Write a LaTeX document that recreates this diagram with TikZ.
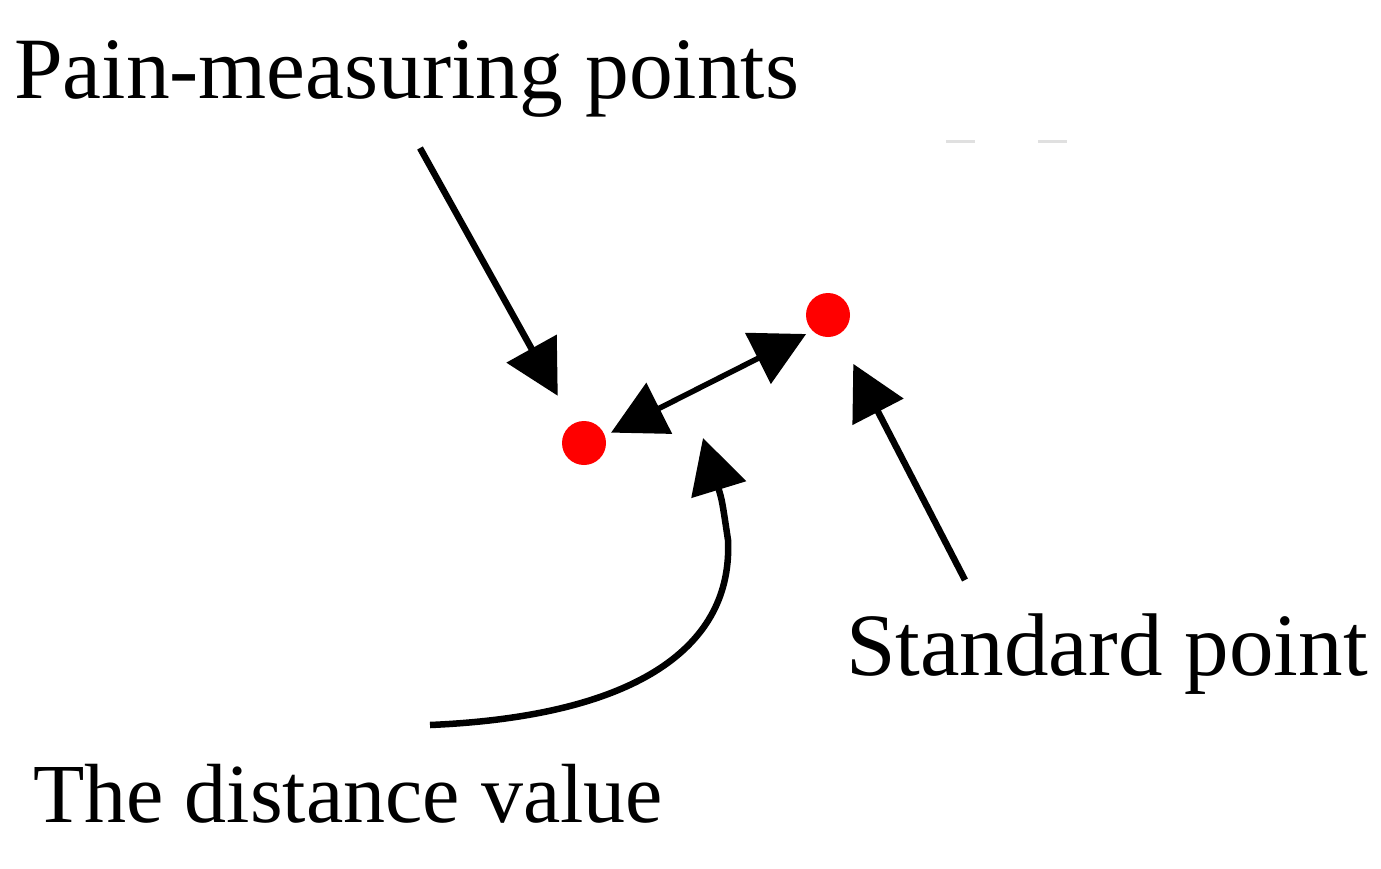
\documentclass[tikz,border=0pt]{standalone}
\usepackage{fontspec}
\setmainfont{Liberation Serif}
\usetikzlibrary{arrows.meta}
\begin{document}
\begin{tikzpicture}[x=1pt,y=-1pt,
  lbl/.style={anchor=base west,inner sep=0pt},
  dot/.style={circle,fill=red,minimum size=44pt,inner sep=0pt,outer sep=7pt},
  arr/.style={line width=6.5pt,-{Triangle[length=54pt,width=56pt]}},
  darr/.style={line width=5.5pt,{Triangle[length=54pt,width=56pt]}-{Triangle[length=54pt,width=56pt]}},
  faint/.style={line width=3pt,draw=black!12}]
\useasboundingbox[fill=white] (0,0) rectangle (1381,868);
\node[lbl,font=\fontsize{87.5}{100}\selectfont] (tpain) at (14,98) {Pain-measuring points};
\node[lbl,font=\fontsize{89}{100}\selectfont] (tstd) at (846,675) {Standard point};
\node[lbl,font=\fontsize{84}{100}\selectfont] (tdist) at (33,822) {The distance value};
\node[dot] (pm) at (584,443) {};
\node[dot] (sp) at (828,315) {};
\coordinate (a1) at (420,148);
\coordinate (a2) at (965,580);
\coordinate (a3) at (430,725);
\coordinate (a3tip) at (703,438);
\draw[arr,shorten >=25pt] (a1) -- (pm);
\draw[arr,shorten >=26pt] (a2) -- (sp);
\draw[darr] (pm.21) -- (sp.221);
\draw[arr] (a3) .. controls (640,716) and (733,645) .. (728,540) .. controls (722,500) .. (a3tip);
\coordinate (f1) at (946,141);
\coordinate (f2) at (975,141);
\coordinate (f3) at (1038,141);
\coordinate (f4) at (1067,141);
\draw[faint] (f1) -- (f2);
\draw[faint] (f3) -- (f4);
\end{tikzpicture}
\end{document}
